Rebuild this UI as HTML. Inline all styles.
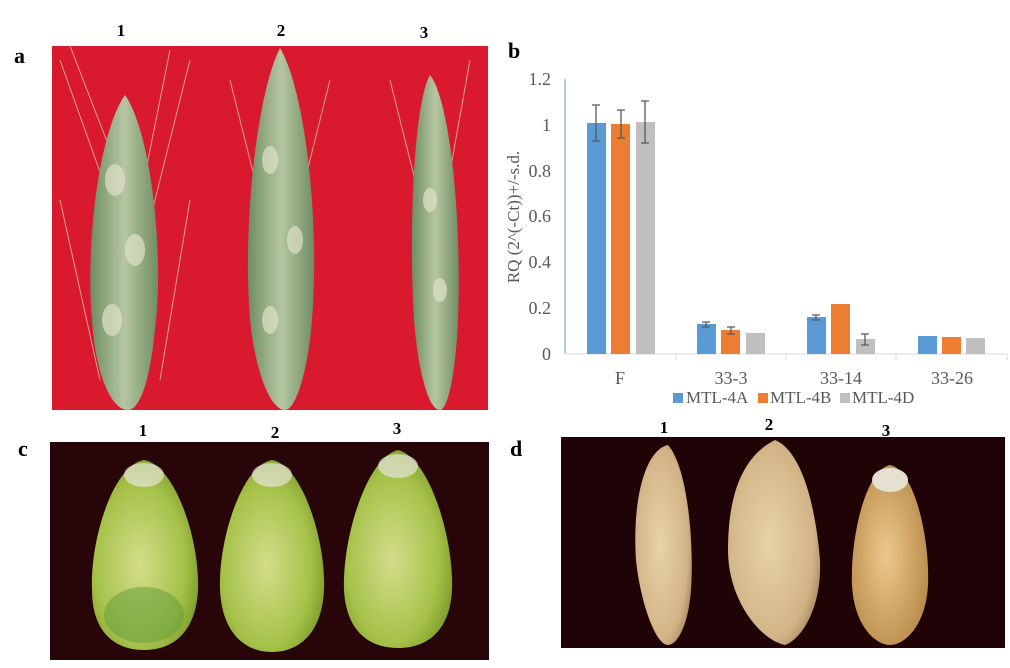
<!DOCTYPE html>
<html><head><style>
body{margin:0;background:#fff;}
svg{display:block}
</style></head><body>
<svg width="1010" height="668" viewBox="0 0 1010 668" xmlns="http://www.w3.org/2000/svg">
<defs>
<radialGradient id="gc" cx="0.45" cy="0.55" r="0.6"><stop offset="0" stop-color="#d4dc8a"/><stop offset="0.7" stop-color="#a6c24a"/><stop offset="1" stop-color="#7c9a2a"/></radialGradient>
<radialGradient id="gd" cx="0.45" cy="0.5" r="0.6"><stop offset="0" stop-color="#e8d2a8"/><stop offset="0.8" stop-color="#d0b486"/><stop offset="1" stop-color="#a88a5e"/></radialGradient>
<radialGradient id="gd3" cx="0.45" cy="0.5" r="0.6"><stop offset="0" stop-color="#ecc88e"/><stop offset="1" stop-color="#b88a48"/></radialGradient>
<linearGradient id="sp" x1="0" x2="1"><stop offset="0" stop-color="#6f8d62"/><stop offset="0.5" stop-color="#b6c6a2"/><stop offset="1" stop-color="#6f8d62"/></linearGradient>
</defs>
<g font-family="Liberation Serif, serif" font-weight="bold" font-size="22">
<text x="14" y="63">a</text><text x="508" y="58">b</text>
<text x="18" y="456">c</text><text x="510" y="456">d</text>
</g>
<g font-family="Liberation Serif, serif" font-weight="bold" font-size="17" text-anchor="middle">
<text x="121" y="36">1</text><text x="281" y="36">2</text><text x="424" y="38">3</text>
<text x="143" y="436">1</text><text x="275" y="438">2</text><text x="397" y="434">3</text>
<text x="664" y="433">1</text><text x="769" y="430">2</text><text x="886" y="436">3</text>
</g>
<!-- panel a -->
<rect x="52" y="46" width="436" height="364" fill="#d8192e"/>
<g stroke="#d8c8a0" stroke-width="1" fill="none" opacity="0.8">
<path d="M60 60 L110 200 M70 46 L118 170 M170 50 L140 200 M190 60 L150 220 M230 80 L260 200 M330 80 L300 200 M390 80 L420 200 M470 60 L445 200 M60 200 L100 380 M190 200 L160 380"/>
</g>
<path d="M125 95 C150 130 165 250 155 330 C150 380 140 410 128 410 C110 410 95 370 92 320 C85 240 100 130 125 95Z" fill="url(#sp)"/>
<path d="M280 48 C305 90 320 220 312 320 C308 370 296 410 285 410 C270 410 255 370 250 320 C242 220 258 90 280 48Z" fill="url(#sp)"/>
<path d="M430 75 C450 100 462 220 458 320 C456 370 448 410 440 410 C428 410 418 370 414 320 C408 220 415 100 430 75Z" fill="url(#sp)"/>
<g fill="#dfe2c8" opacity="0.7">
<ellipse cx="115" cy="180" rx="10" ry="16"/><ellipse cx="135" cy="250" rx="10" ry="16"/><ellipse cx="112" cy="320" rx="10" ry="16"/>
<ellipse cx="270" cy="160" rx="8" ry="14"/><ellipse cx="295" cy="240" rx="8" ry="14"/><ellipse cx="270" cy="320" rx="8" ry="14"/>
<ellipse cx="430" cy="200" rx="7" ry="12"/><ellipse cx="440" cy="290" rx="7" ry="12"/>
</g>
<!-- panel b chart -->
<g font-family="Liberation Serif, serif" font-size="18" fill="#595959">
<line x1="565" y1="79" x2="565" y2="354" stroke="#5b9bd5" stroke-width="1"/>
<line x1="565" y1="354" x2="1007" y2="354" stroke="#d9d9d9" stroke-width="1"/>
<g stroke="#d9d9d9"><line x1="676" y1="354" x2="676" y2="360"/><line x1="786" y1="354" x2="786" y2="360"/><line x1="896" y1="354" x2="896" y2="360"/><line x1="1007" y1="354" x2="1007" y2="360"/></g>
<g text-anchor="end"><text x="551" y="360">0</text><text x="551" y="314">0.2</text><text x="551" y="268">0.4</text><text x="551" y="222">0.6</text><text x="551" y="177">0.8</text><text x="551" y="131">1</text><text x="551" y="85">1.2</text></g>
<text transform="translate(519,217) rotate(-90)" text-anchor="middle" font-size="17">RQ (2^(-Ct))+/-s.d.</text>
<g text-anchor="middle"><text x="620" y="384">F</text><text x="731" y="384">33-3</text><text x="841" y="384">33-14</text><text x="952" y="384">33-26</text></g>
<g font-size="17">
<rect x="673" y="393" width="10" height="10" fill="#5b9bd5"/><text x="686" y="403">MTL-4A</text>
<rect x="758" y="393" width="10" height="10" fill="#ed7d31"/><text x="770" y="403">MTL-4B</text>
<rect x="840" y="393" width="10" height="10" fill="#bfbfbf"/><text x="852" y="403">MTL-4D</text>
</g>
</g>
<g>
<rect x="587" y="123" width="19" height="231" fill="#5b9bd5"/><rect x="611" y="124" width="19" height="230" fill="#ed7d31"/><rect x="636" y="122" width="19" height="232" fill="#bfbfbf"/>
<rect x="697" y="324" width="19" height="30" fill="#5b9bd5"/><rect x="721" y="330" width="19" height="24" fill="#ed7d31"/><rect x="746" y="333" width="19" height="21" fill="#bfbfbf"/>
<rect x="807" y="317" width="19" height="37" fill="#5b9bd5"/><rect x="831" y="304" width="19" height="50" fill="#ed7d31"/><rect x="856" y="339" width="19" height="15" fill="#bfbfbf"/>
<rect x="918" y="336" width="19" height="18" fill="#5b9bd5"/><rect x="942" y="337" width="19" height="17" fill="#ed7d31"/><rect x="966" y="338" width="19" height="16" fill="#bfbfbf"/>
</g>
<g stroke="#595959" stroke-width="1.3" fill="none">
<path d="M596 105V141M592 105h8M592 141h8"/><path d="M621 110V138M617 110h8M617 138h8"/><path d="M645 101V143M641 101h8M641 143h8"/>
<path d="M706 322V327M702 322h8M702 327h8"/><path d="M731 327V334M727 327h8M727 334h8"/>
<path d="M816 315V320M812 315h8M812 320h8"/><path d="M865 334V345M861 334h8M861 345h8"/>
</g>
<!-- panel c -->
<rect x="50" y="442" width="439" height="218" fill="#280508"/>
<path d="M144 460 C175 465 200 540 198 590 C196 630 175 650 144 650 C113 650 92 630 92 590 C90 540 113 465 144 460Z" fill="url(#gc)"/>
<path d="M272 460 C302 465 326 540 324 590 C322 632 300 652 272 652 C244 652 222 632 220 590 C218 540 242 465 272 460Z" fill="url(#gc)"/>
<path d="M398 450 C430 458 454 540 452 590 C450 630 428 648 398 648 C368 648 346 630 344 590 C342 540 366 458 398 450Z" fill="url(#gc)"/>
<g fill="#e6e6d8" opacity="0.7"><ellipse cx="144" cy="475" rx="20" ry="12"/><ellipse cx="272" cy="475" rx="20" ry="12"/><ellipse cx="398" cy="466" rx="20" ry="12"/></g>
<ellipse cx="144" cy="615" rx="40" ry="28" fill="#5e9a3a" opacity="0.5"/>
<!-- panel d -->
<rect x="561" y="437" width="444" height="211" fill="#200306"/>
<path d="M668 445 C690 470 695 560 690 600 C686 630 676 645 668 645 C655 645 640 600 636 560 C632 500 645 450 668 445Z" fill="url(#gd)"/>
<path d="M775 440 C800 450 815 500 820 560 C822 610 800 640 785 645 C760 640 728 600 728 550 C728 490 745 455 775 440Z" fill="url(#gd)"/>
<path d="M890 465 C915 470 930 540 928 585 C926 625 905 645 890 645 C875 645 854 625 852 585 C850 540 865 470 890 465Z" fill="url(#gd3)"/>
<ellipse cx="890" cy="480" rx="18" ry="12" fill="#e6e0d0"/>
</svg>
</body></html>
